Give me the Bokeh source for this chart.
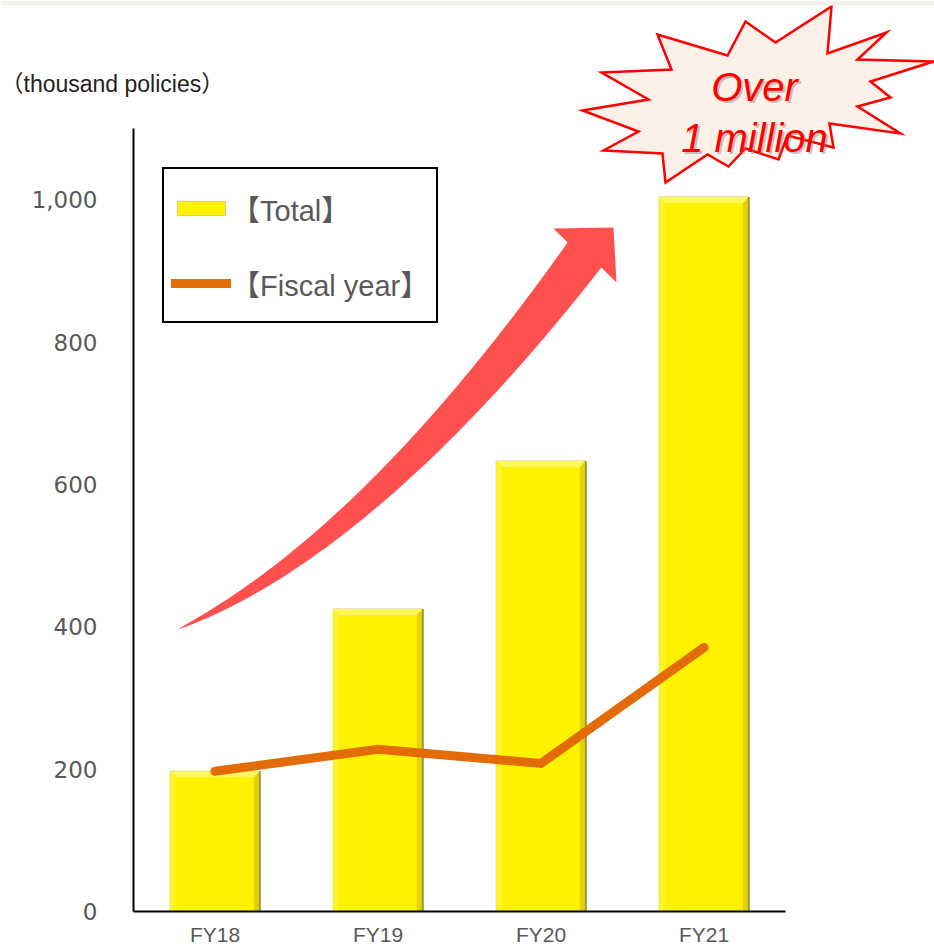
import numpy as np
from bokeh.plotting import figure
from bokeh.models import (Range1d, FixedTicker, NumeralTickFormatter, Legend,
                          LegendItem, Label, BoxAnnotation)
from bokeh.embed import file_html
from bokeh.resources import INLINE

# ---------------- data ----------------
categories = ["FY18", "FY19", "FY20", "FY21"]
total = [197, 425, 633, 1004]
fiscal_year = [197, 228, 208, 371]
y_ticks = [0, 200, 400, 600, 800, 1000]
unit_label = "（thousand policies）"
callout_lines = ["Over", "1 million"]
series_names = ["【Total】", "【Fiscal year】"]

# ---------------- geometry ----------------
PAGE_W, PAGE_H = 934, 945
AXIS_X, AXIS_Y = 133, 911      # pixel position of the axes
X_PX_PER_CAT = 163.0
Y_PX_PER_UNIT = 0.7117


def px2x(px):
    return (np.asarray(px, dtype=float) - AXIS_X) / X_PX_PER_CAT


def px2y(py):
    return (AXIS_Y - np.asarray(py, dtype=float)) / Y_PX_PER_UNIT


p = figure(frame_width=PAGE_W, frame_height=PAGE_H,
           x_range=Range1d(float(px2x(0)), float(px2x(PAGE_W))),
           y_range=Range1d(float(px2y(PAGE_H)), float(px2y(0))),
           output_backend="svg", toolbar_location=None,
           min_border_left=0, min_border_right=0, min_border_top=0,
           min_border_bottom=0)
p.grid.visible = False
p.outline_line_color = None
p.background_fill_color = "white"
p.border_fill_color = "white"

# top page strip
p.add_layout(BoxAnnotation(left=float(px2x(0)), right=float(px2x(PAGE_W)),
                           bottom=float(px2y(5)), top=float(px2y(0)),
                           fill_color="#F2F1EE", fill_alpha=1, line_color=None))

# ---------------- axes ----------------
xc = [i + 0.5 for i in range(len(categories))]
p.xaxis.fixed_location = 0
p.xaxis.ticker = FixedTicker(ticks=xc)
p.xaxis.major_label_overrides = {x: c for x, c in zip(xc, categories)}
p.xaxis.bounds = (0, len(categories))
p.xaxis.axis_line_color = "black"
p.xaxis.axis_line_width = 2
p.xaxis.major_tick_out = 0
p.xaxis.major_tick_in = 0
p.xaxis.minor_tick_out = 0
p.xaxis.minor_tick_in = 0
p.xaxis.major_label_standoff = 11
p.xaxis.major_label_text_font = "Liberation Sans"
p.xaxis.major_label_text_font_size = "21px"
p.xaxis.major_label_text_color = "#595959"

p.yaxis.fixed_location = 0
p.yaxis.ticker = FixedTicker(ticks=y_ticks)
p.yaxis.formatter = NumeralTickFormatter(format="0,0")
p.yaxis.bounds = (0, 1100)
p.yaxis.axis_line_color = "black"
p.yaxis.axis_line_width = 2
p.yaxis.major_tick_out = 0
p.yaxis.major_tick_in = 0
p.yaxis.minor_tick_out = 0
p.yaxis.minor_tick_in = 0
p.yaxis.major_label_standoff = 36
p.yaxis.major_label_text_font = "DejaVu Sans"
p.yaxis.major_label_text_font_size = "23px"
p.yaxis.major_label_text_color = "#595959"

# ---------------- curved arrow (decoration) ----------------
P0 = np.array([177.0, 629.0])
P1 = np.array([369.0, 543.0])
P2 = np.array([584.0, 254.5])
t = np.linspace(0, 1, 80)[:, None]
C = (1 - t) ** 2 * P0 + 2 * (1 - t) * t * P1 + t ** 2 * P2
D = 2 * (1 - t) * (P1 - P0) + 2 * t * (P2 - P1)
D = D / np.linalg.norm(D, axis=1)[:, None]
N = np.stack([D[:, 1], -D[:, 0]], axis=1)
hw = 21.0 * t ** 0.8
upper = C + N * hw
lower = C - N * hw
head = np.array([[553.0, 228.0], [613.0, 227.0], [616.0, 282.0]])
arrow_pts = np.vstack([upper, head, lower[::-1]])
p.patch(px2x(arrow_pts[:, 0]), px2y(arrow_pts[:, 1]),
        fill_color="#FF5050", line_color=None)

# ---------------- bars ----------------
bw = 0.55
bars = p.vbar(x=xc, top=total, width=bw, fill_color="#FFF200",
              line_color="#D2CA80", line_width=1)

bx = 6 / X_PX_PER_CAT
by = 6 / Y_PX_PER_UNIT
top_xs, top_ys, left_xs, left_ys, right_xs, right_ys = [], [], [], [], [], []
for x, h in zip(xc, total):
    l, r = x - bw / 2, x + bw / 2
    top_xs.append([l, r, r - bx, l + bx]); top_ys.append([h, h, h - by, h - by])
    left_xs.append([l, l + bx, l + bx, l]); left_ys.append([h, h - by, 0, 0])
    right_xs.append([r, r, r - bx, r - bx]); right_ys.append([h, 0, 0, h - by])
p.patches(top_xs, top_ys, fill_color="#FFF75C", line_color=None)
p.patches(left_xs, left_ys, fill_color="#FFF426", line_color=None)
p.patches(right_xs, right_ys, fill_color="#E2D300", line_color=None)
p.segment(x0=[x + bw / 2 for x in xc], y0=[0] * len(xc),
          x1=[x + bw / 2 for x in xc], y1=total, line_color="#A29A3A",
          line_width=2)

# ---------------- line ----------------
line = p.line(xc, fiscal_year, line_color="#E36C09", line_width=9,
              line_cap="round", line_join="miter")

# ---------------- legend ----------------
legend = Legend(items=[LegendItem(label=series_names[0], renderers=[bars]),
                       LegendItem(label=series_names[1], renderers=[line])],
                location=(162, PAGE_H - 323))
legend.border_line_color = "black"
legend.border_line_alpha = 1
legend.border_line_width = 2
legend.background_fill_color = "white"
legend.background_fill_alpha = 1
legend.padding = 7
legend.spacing = 12
legend.margin = 0
legend.label_height = 63
legend.glyph_width = 60
legend.glyph_height = 18
legend.label_standoff = 0
legend.label_text_font = "Liberation Sans, Noto Sans CJK JP"
legend.label_text_font_size = "29px"
legend.label_text_color = "#595959"
p.add_layout(legend)

# ---------------- unit label ----------------
p.add_layout(Label(x=float(px2x(0)), y=float(px2y(83)), text=unit_label,
                   text_font="Liberation Sans, Noto Sans CJK JP",
                   text_font_size="23px", text_color="#222222",
                   text_baseline="middle", text_align="left"))

# ---------------- starburst callout (decoration) ----------------
burst = np.array([(657, 34), (671, 69), (601, 72), (648, 99), (582, 110),
                  (638, 131), (603, 150), (662, 153), (665, 182), (707, 154),
                  (728, 166), (745, 148), (778, 159), (787, 135), (833, 147),
                  (829, 123), (900, 133), (857, 106), (890, 97), (870, 81),
                  (933, 61), (857, 59), (886, 32), (827, 53), (831, 6),
                  (775, 42), (745, 21), (727, 55)], dtype=float)
p.patch(px2x(burst[:, 0]), px2y(burst[:, 1]), fill_color="#FCF0E8",
        line_color="#FF0000", line_width=2.5, line_join="miter")

for txt, base in zip(callout_lines, [86, 137]):
    p.add_layout(Label(x=float(px2x(756)), y=float(px2y(base + 2)), text=txt,
                       text_font="Liberation Sans", text_font_style="italic",
                       text_font_size="40px", text_color="#808080",
                       text_alpha=0.45, text_align="center",
                       text_baseline="alphabetic"))
    p.add_layout(Label(x=float(px2x(754)), y=float(px2y(base)), text=txt,
                       text_font="Liberation Sans", text_font_style="italic",
                       text_font_size="40px", text_color="#FF0000",
                       text_align="center", text_baseline="alphabetic"))

open("out.html", "w").write(file_html(p, INLINE))
